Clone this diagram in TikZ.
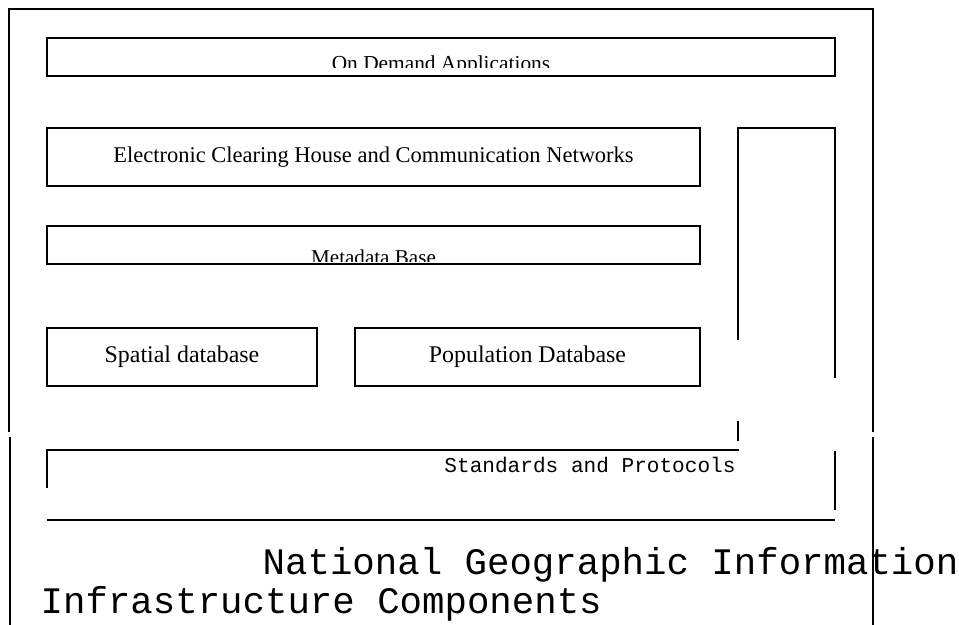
\documentclass[tikz,border=0pt]{standalone}
\usepackage{fontspec}
\setmainfont{Liberation Serif}
\setmonofont{Liberation Mono}
\begin{document}
\begin{tikzpicture}[line width=1pt,
  box/.style={draw, rectangle, inner sep=0pt, font=\fontsize{16}{19}\selectfont}]
\useasboundingbox (0,0) rectangle (23.975,-15.625);
% outer frame
\coordinate (tl) at (0.225,-0.225);
\coordinate (tr) at (21.825,-0.225);
\draw (0.225,-10.8) -- (tl) -- (tr) -- (21.825,-10.8);
\draw (0.25,-10.925) -- (0.25,-15.625);
\draw (21.825,-10.925) -- (21.825,-15.625);

% upper layers
\node[box, minimum width=19.7cm, minimum height=0.95cm] (apps) at (11.025,-1.425) {};
\begin{scope}
\clip (1.2,-0.98) rectangle (20.85,-1.7);
\node[anchor=base, font=\fontsize{15.2}{18}\selectfont] (appstxt) at (11.025,-1.76) {On Demand Applications};
\end{scope}
\node[box, minimum width=16.325cm, minimum height=1.45cm] (ech) at (9.3375,-3.925) {Electronic Clearing House and Communication Networks};
\node[box, minimum width=16.325cm, minimum height=0.95cm] (meta) at (9.3375,-6.125) {};
\begin{scope}
\clip (1.2,-5.68) rectangle (17.47,-6.55);
\node[anchor=base, font=\fontsize{15}{18}\selectfont] (metatxt) at (9.3375,-6.61) {Metadata Base};
\end{scope}

% databases
\node[box, font=\fontsize{17}{20}\selectfont, minimum width=6.75cm, minimum height=1.45cm] (spatial) at (4.55,-8.925) {Spatial database};
\node[box, font=\fontsize{17}{20}\selectfont, minimum width=8.625cm, minimum height=1.45cm] (pop) at (13.1875,-8.925) {Population Database};

% side column
\draw (18.45,-8.5) -- (18.45,-3.2) -- (20.875,-3.2) -- (20.875,-9.45);
\draw (18.45,-10.525) -- (18.45,-11.025);

% standards
\draw (1.175,-12.2) -- (1.175,-11.25) -- (18.475,-11.25);
\draw (20.875,-11.275) -- (20.875,-12.75);
\draw (1.175,-13.0) -- (20.875,-13.0);
\node[font=\ttfamily\fontsize{15}{18}\selectfont] (std) at (14.75,-11.625) {Standards and Protocols};

% title
\node[anchor=base west, inner sep=0pt, font=\ttfamily\fontsize{26.6}{30}\selectfont] (title1) at (6.55,-14.35) {National Geographic Information};
\node[anchor=base west, inner sep=0pt, font=\ttfamily\fontsize{26.6}{30}\selectfont] (title2) at (1.0,-15.325) {Infrastructure Components};
\end{tikzpicture}
\end{document}
